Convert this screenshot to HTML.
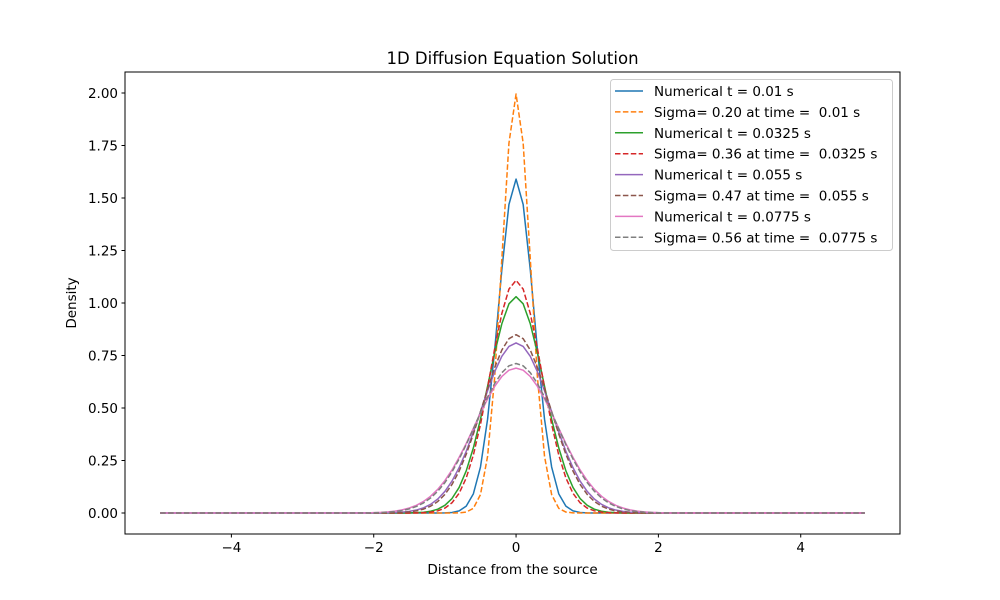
<!DOCTYPE html>
<html><head><meta charset="utf-8"><style>
body{margin:0;background:#fff}
svg{display:block;font-family:"DejaVu Sans","Liberation Sans",sans-serif}
svg text{white-space:pre}
</style></head><body>
<svg id="chart" width="1000" height="600" viewBox="0 0 1000 600" xmlns="http://www.w3.org/2000/svg" xml:space="preserve">
<rect width="1000" height="600" fill="#fff"/>
<text x="512.5" y="64" font-size="16.5" text-anchor="middle">1D Diffusion Equation Solution</text>
<g id="plot"></g>
<rect x="125" y="72" width="775" height="462" fill="none" stroke="#000" stroke-width="1"/>
<text x="512.5" y="574" font-size="13.5" text-anchor="middle">Distance from the source</text>
<text transform="translate(76,303) rotate(-90)" font-size="13.5" text-anchor="middle">Density</text>
<g id="legend"></g>
</svg>
<script>
// x grid: 0.0..2.0 step 0.1 (symmetric profile, mirrored about 0); zero beyond
const halfX = [0,0.1,0.2,0.3,0.4,0.5,0.6,0.7,0.8,0.9,1.0,1.1,1.2,1.3,1.4,1.5,1.6,1.7,1.8,1.9,2.0];
const num001 = [1.59,1.469,1.158,0.778,0.447,0.219,0.0913,0.0326,0.0099,0.0026,0.0006,0,0,0,0,0,0,0,0,0,0];
const sig020 = [1.995,1.761,1.210,0.648,0.270,0.0876,0.0222,0.0044,0.0007,0,0,0,0,0,0,0,0,0,0,0,0];
const num0325 = [1.03,0.996,0.901,0.763,0.604,0.447,0.310,0.201,0.1216,0.0689,0.0365,0.0181,0.0084,0.0036,0.0015,0.0006,0,0,0,0,0];
const sig036 = [1.108,1.066,0.950,0.783,0.598,0.422,0.276,0.167,0.0939,0.0487,0.0234,0.0104,0.0043,0.0016,0.0006,0,0,0,0,0,0];
const num055 = [0.81,0.793,0.746,0.673,0.582,0.483,0.385,0.294,0.216,0.152,0.1026,0.0665,0.0414,0.0247,0.0141,0.0078,0.0041,0.0021,0.0010,0.0005,0.0002];
const sig047 = [0.849,0.830,0.776,0.693,0.591,0.482,0.376,0.280,0.1994,0.1358,0.0883,0.0549,0.0326,0.0185,0.0101,0.0052,0.0026,0.0012,0.0006,0.0002,0.0001];
const num0775 = [0.69,0.680,0.650,0.603,0.543,0.475,0.403,0.331,0.265,0.205,0.1544,0.1128,0.080,0.055,0.0367,0.0238,0.0150,0.0091,0.0054,0.0031,0.0017];
const sig056 = [0.712,0.701,0.668,0.617,0.552,0.478,0.401,0.326,0.257,0.196,0.1446,0.1035,0.0717,0.0481,0.0313,0.0197,0.0120,0.0071,0.0041,0.0023,0.0012];
const xRange = [-5, 4.9];
const xTicks = [-4,-2,0,2,4];
const yTicks = [0,0.25,0.5,0.75,1.0,1.25,1.5,1.75,2.0];
const yTickLabels = ["0.00","0.25","0.50","0.75","1.00","1.25","1.50","1.75","2.00"];
const xTickLabels = ["\u22124","\u22122","0","2","4"];
const seriesNames = ["Numerical t = 0.01 s","Sigma= 0.20 at time =  0.01 s","Numerical t = 0.0325 s","Sigma= 0.36 at time =  0.0325 s","Numerical t = 0.055 s","Sigma= 0.47 at time =  0.055 s","Numerical t = 0.0775 s","Sigma= 0.56 at time =  0.0775 s"];
const seriesData = [num001,sig020,num0325,sig036,num055,sig047,num0775,sig056];
const colors = ["#1f77b4","#ff7f0e","#2ca02c","#d62728","#9467bd","#8c564b","#e377c2","#7f7f7f"];

const NS="http://www.w3.org/2000/svg";
const L=125,R=900,T=72,B=534;
const span=xRange[1]-xRange[0];
const x0=xRange[0]-0.05*span, x1=xRange[1]+0.05*span;
const sx=v=>L+(v-x0)/(x1-x0)*(R-L);
const sy=v=>B-(v+0.1)/2.2*(B-T);
function mk(tag,attrs,parent){const e=document.createElementNS(NS,tag);for(const k in attrs)e.setAttribute(k,attrs[k]);parent.appendChild(e);return e;}
const plot=document.getElementById('plot');
const svg=document.getElementById('chart');
xTicks.forEach((v,i)=>{
  const t=mk('line',{x1:sx(v),x2:sx(v),y1:B,y2:B+3.5,stroke:'#000'},svg);
  
  
  const tx=mk('text',{x:sx(v),y:B+18,'font-size':13.5,'text-anchor':'middle'},svg);
  
  
  tx.textContent=xTickLabels[i];
});
yTicks.forEach((v,i)=>{
  const t=mk('line',{x1:L-3.5,x2:L,y1:sy(v),y2:sy(v),stroke:'#000'},svg);
  
  
  const tx=mk('text',{x:L-7,y:sy(v)+5,'font-size':13.5,'text-anchor':'end'},svg);
  
  
  tx.textContent=yTickLabels[i];
});
const n=Math.round(span/0.1)+1;
seriesData.forEach((arr,si)=>{
  const pts=[];
  for(let k=0;k<n;k++){
    const x=xRange[0]+k*0.1;
    const idx=Math.round(Math.abs(x)*10);
    const y=idx<arr.length?arr[idx]:0;
    pts.push(sx(x).toFixed(2)+','+sy(y).toFixed(2));
  }
  const p=mk('polyline',{points:pts.join(' '),fill:'none',stroke:colors[si],'stroke-width':1.5,'stroke-linejoin':'round'},plot);
  if(si%2===1)p.setAttribute('stroke-dasharray','5.5,2.4');
  
  
});
const lg=document.getElementById('legend');
const box=mk('rect',{x:610.5,y:79.5,width:282,height:171,rx:3,fill:'#fff','fill-opacity':0.8,stroke:'#ccc'},lg);


seriesNames.forEach((name,i)=>{
  const y=91+i*20.9;
  const g=mk('g',{},lg);
  
  
  const ln=mk('line',{x1:615,x2:643,y1:y,y2:y,stroke:colors[i],'stroke-width':1.5},g);
  if(i%2===1)ln.setAttribute('stroke-dasharray','5.5,2.4');
  const t=mk('text',{x:654,y:y+5,'font-size':13.5},g);
  t.textContent=name;
});
</script>
</body></html>
